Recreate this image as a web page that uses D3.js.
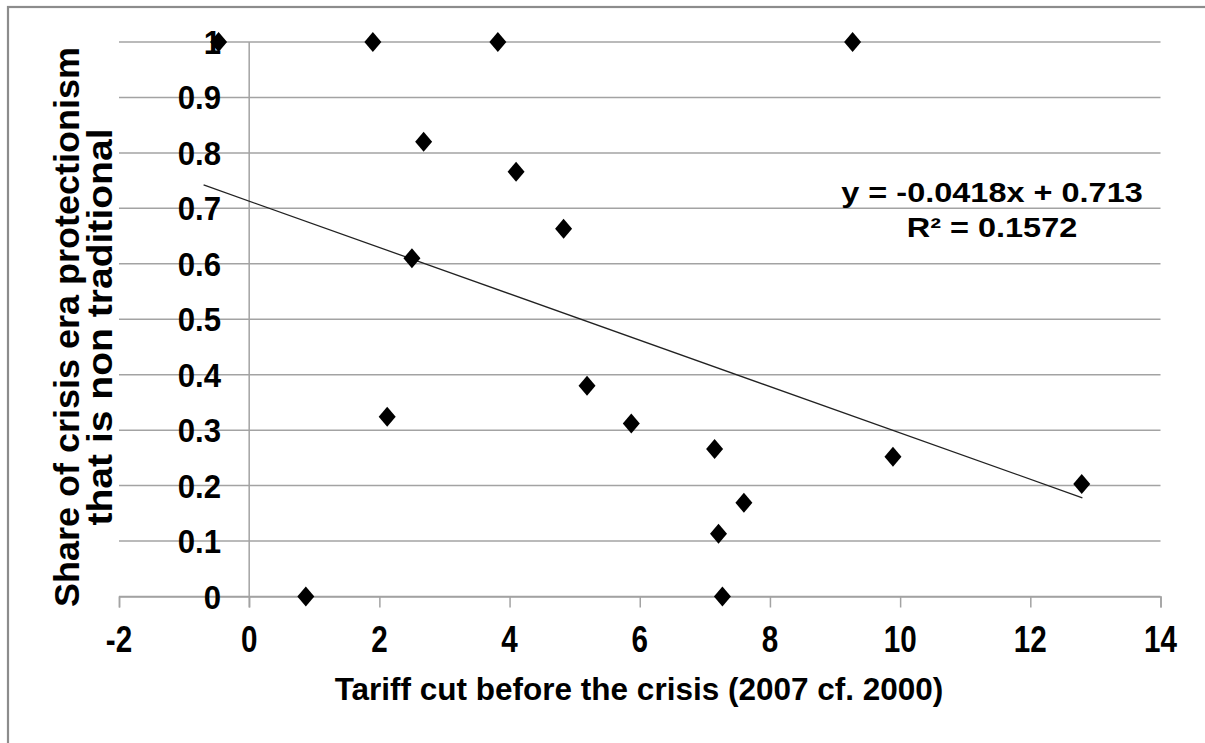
<!DOCTYPE html>
<html>
<head>
<meta charset="utf-8">
<script src="https://cdn.jsdelivr.net/npm/d3@7"></script>
<style>
  html, body { margin: 0; padding: 0; background: #fff; }
  svg { display: block; }
  text { font-family: "Liberation Sans", Arial, sans-serif; font-weight: bold; fill: #000; }
</style>
</head>
<body>
<svg id="chart" width="1205" height="743"></svg>
<script>
// Tariff cut 2000→2007 (percentage points) against share of crisis-era protectionism that is non-traditional
const tariffCut = [-0.47, 1.90, 3.82, 9.27, 2.68, 4.10, 4.83, 2.50, 5.19, 2.12, 5.87, 7.15, 9.89, 7.60, 7.21, 7.27, 0.87, 12.79];
const nonTraditionalShare = [1.0, 1.0, 1.0, 1.0, 0.82, 0.766, 0.663, 0.61, 0.38, 0.324, 0.312, 0.266, 0.252, 0.169, 0.113, 0.0, 0.0, 0.203];

// Linear fit reported on the chart
const fitSlope = -0.0418;
const fitIntercept = 0.713;
const fitRange = [-0.7, 12.8];
const fitLabels = ["y = -0.0418x + 0.713", "R\u00B2 = 0.1572"];

const xTicks = [-2, 0, 2, 4, 6, 8, 10, 12, 14];
const yTicks = [0, 0.1, 0.2, 0.3, 0.4, 0.5, 0.6, 0.7, 0.8, 0.9, 1];
const xTitle = "Tariff cut before the crisis (2007 cf. 2000)";
const yTitleLines = ["Share of crisis era protectionism", "that is non traditional"];
const yTitleLengths = [560, 397];

const svg = d3.select("#chart");

// outer frame of the chart area
svg.append("rect")
  .attr("x", 8).attr("y", 7)
  .attr("width", 1230).attr("height", 760)
  .attr("fill", "none").attr("stroke", "#8c8c8c").attr("stroke-width", 2.2);

const x = d3.scaleLinear().domain([-2, 14]).range([119, 1160.5]);
const y = d3.scaleLinear().domain([0, 1]).range([596.5, 42]);

const grid = "#a3a3a3";

// horizontal gridlines
svg.append("g")
  .selectAll("line")
  .data(yTicks)
  .join("line")
  .attr("x1", x(-2)).attr("x2", x(14))
  .attr("y1", d => y(d)).attr("y2", d => y(d))
  .attr("stroke", grid).attr("stroke-width", 1.5);

// x axis with downward tick marks, crossing at y = 0
const xAxis = d3.axisBottom(x).tickValues(xTicks).tickSize(11).tickFormat("");
const gx = svg.append("g").attr("transform", `translate(0,${y(0)})`).call(xAxis);
gx.select(".domain").attr("stroke", grid).attr("stroke-width", 1.5);
gx.selectAll(".tick line").attr("stroke", grid).attr("stroke-width", 1.5);

// vertical axis crossing at x = 0
svg.append("line")
  .attr("x1", x(0)).attr("x2", x(0))
  .attr("y1", y(1)).attr("y2", y(0) + 11)
  .attr("stroke", grid).attr("stroke-width", 1.5);

// y tick labels
svg.append("g")
  .selectAll("text")
  .data(yTicks)
  .join("text")
  .attr("text-anchor", "end")
  .attr("font-size", 33.5)
  .attr("transform", d => `translate(221,${y(d) + 12}) scale(0.93,1)`)
  .text(d => d3.format("~g")(d));

// x tick labels
svg.append("g")
  .selectAll("text")
  .data(xTicks)
  .join("text")
  .attr("text-anchor", "middle")
  .attr("font-size", 37.5)
  .attr("transform", d => `translate(${x(d)},652) scale(0.79,1)`)
  .text(d => d);

// fitted trend line
svg.append("line")
  .attr("x1", x(fitRange[0])).attr("y1", y(fitSlope * fitRange[0] + fitIntercept))
  .attr("x2", x(fitRange[1])).attr("y2", y(fitSlope * fitRange[1] + fitIntercept))
  .attr("stroke", "#222").attr("stroke-width", 1.3);

// diamond markers
const diamond = "M0,-10 L8.5,0 L0,10 L-8.5,0 Z";
svg.append("g")
  .selectAll("path")
  .data(tariffCut.map((v, i) => [v, nonTraditionalShare[i]]))
  .join("path")
  .attr("d", diamond)
  .attr("transform", d => `translate(${x(d[0])},${y(d[1])})`)
  .attr("fill", "#000");

// regression equation
svg.append("g")
  .selectAll("text")
  .data(fitLabels)
  .join("text")
  .attr("text-anchor", "middle")
  .attr("font-size", 28)
  .attr("transform", (d, i) => `translate(992,${202 + i * 35}) scale(1.16,1)`)
  .text(d => d);

// axis titles
svg.append("text")
  .attr("text-anchor", "middle")
  .attr("font-size", 31.5)
  .attr("x", 639).attr("y", 700)
  .text(xTitle);

svg.append("g")
  .selectAll("text")
  .data(yTitleLines)
  .join("text")
  .attr("text-anchor", "middle")
  .attr("font-size", 35)
  .attr("textLength", (d, i) => yTitleLengths[i])
  .attr("lengthAdjust", "spacingAndGlyphs")
  .attr("transform", (d, i) => `translate(${79 + i * 33},327) rotate(-90)`)
  .text(d => d);
</script>
</body>
</html>
